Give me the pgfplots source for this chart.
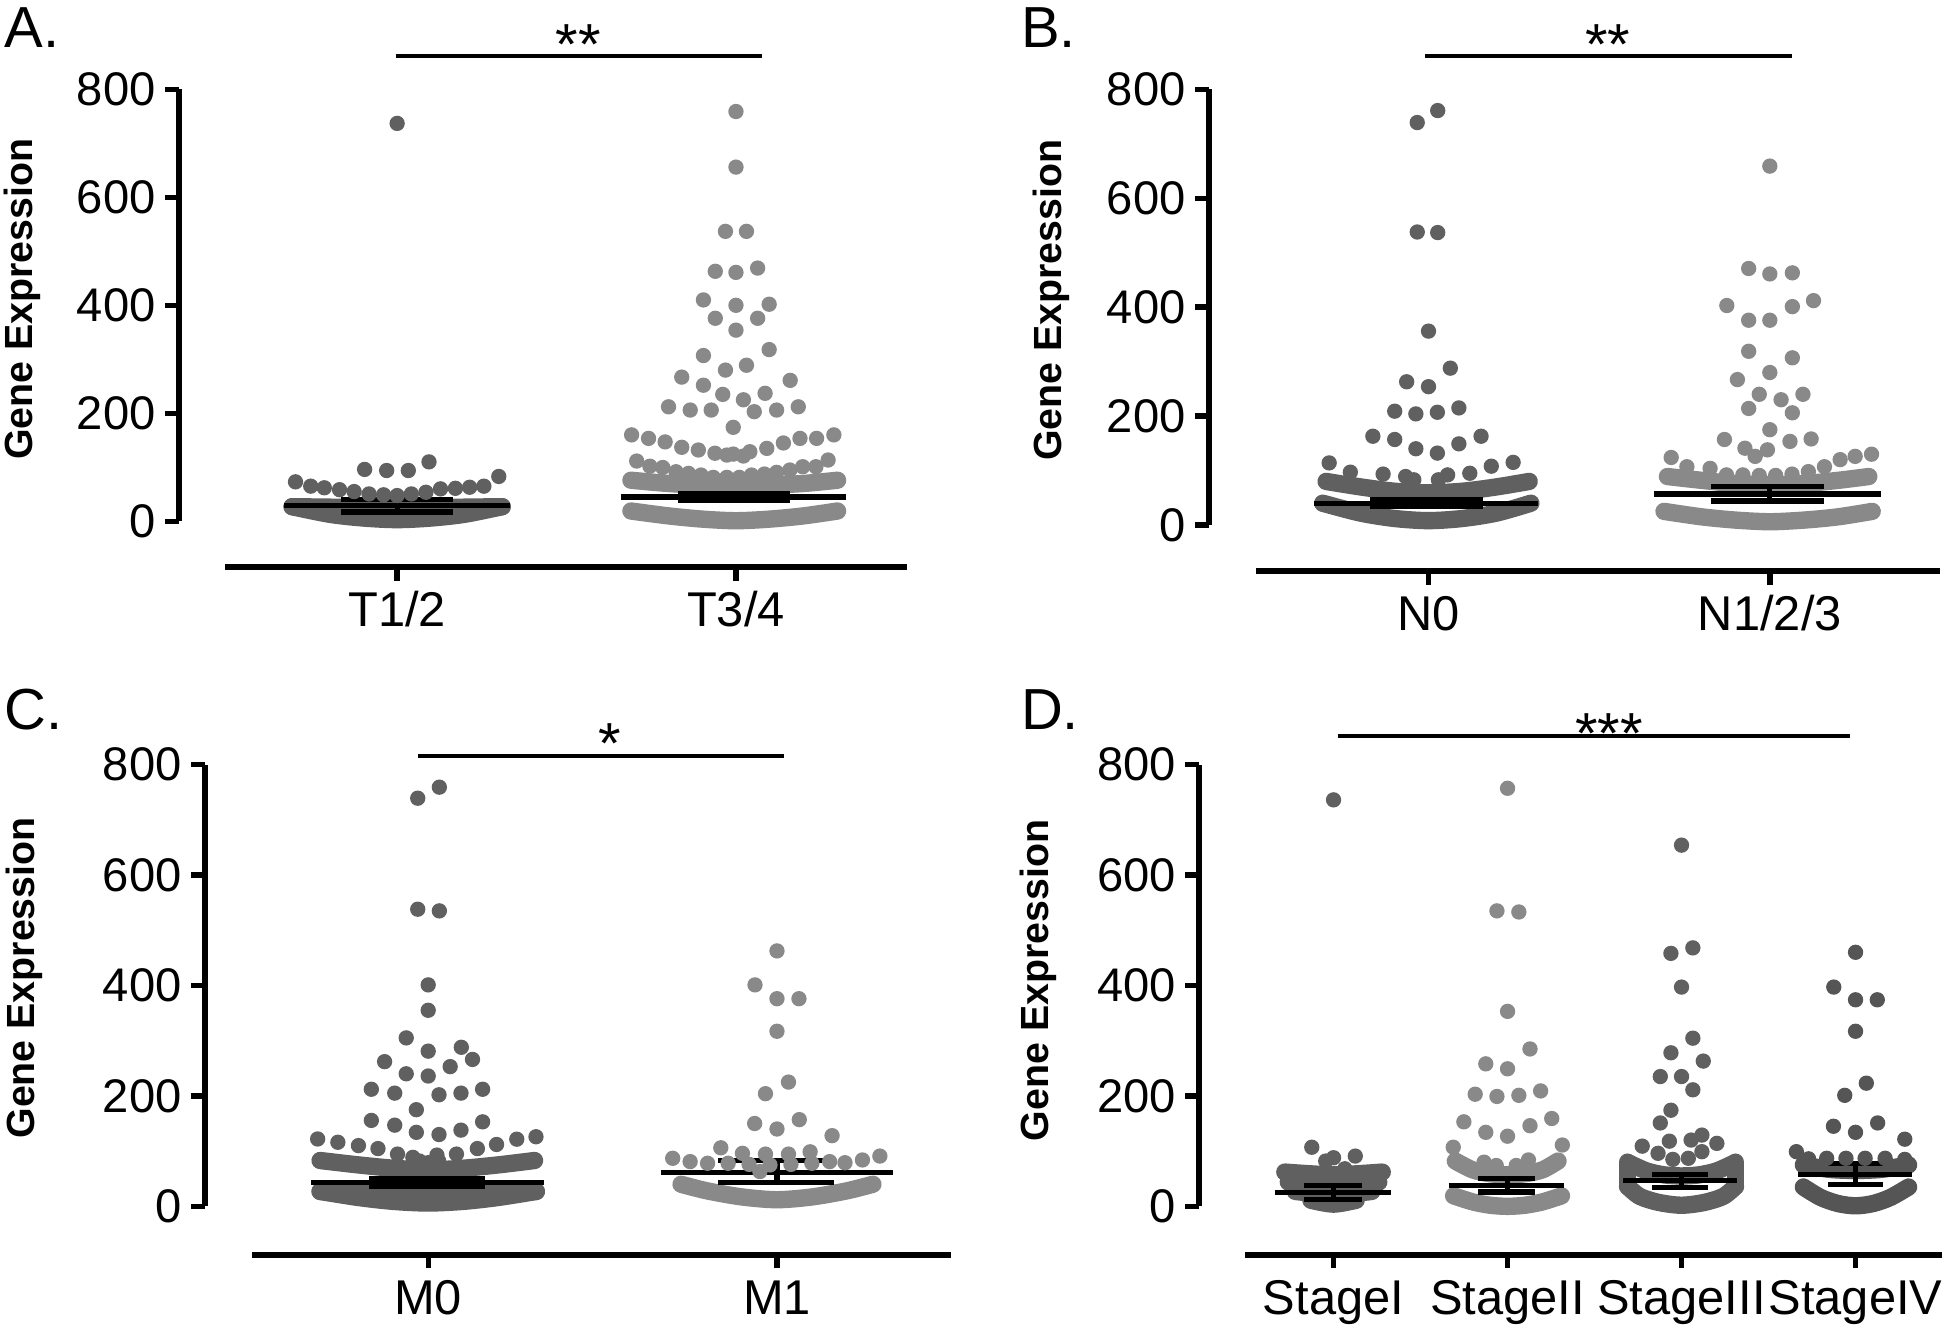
\documentclass[border=0pt]{standalone}
\usepackage{fontspec}
\setmainfont{Liberation Sans}
\usepackage{pgfplots}
\pgfplotsset{compat=1.18}
\definecolor{dk}{HTML}{606060}
\definecolor{lt}{HTML}{898989}
\definecolor{dkk}{HTML}{555555}
\tikzset{axl/.style={line width=1.5pt}}
\pgfplotsset{
  panel/.style={
    scale only axis, clip=false, anchor=south west,
    axis lines*=left, axis line style={draw=none},
    tick align=outside, major tick length=3.3pt,
    tick style={black, line width=1.3pt},
    ymax=800, ytick={0,200,400,600,800},
    /pgf/number format/assume math mode=true,
    tick label style={font=\fontsize{11.4}{13}\selectfont},
    yticklabel style={anchor=east, inner sep=0pt, xshift=-2.1pt},
    xticklabel style={anchor=base, inner sep=0pt, yshift=-11.1pt, font=\fontsize{11.8}{13}\selectfont},
  },
  dot/.style={only marks, mark=*, mark size=1.65pt, color=#1, mark options={solid, fill=#1, draw=#1, line width=0.4pt}},
  band/.style={draw=#1, line width=4.2pt, line cap=round, line join=round, smooth, mark=none},
  eb/.style={black, line width=1.25pt, mark=none},
}
\begin{document}
\begin{tikzpicture}
\useasboundingbox (0,0) rectangle (470.4pt,322.2pt);

% ---------------- Panel A ----------------
\begin{axis}[panel, at={(43.2pt,185.1pt)}, width=176.1pt, height=115.5pt,
  xmin=0.3553, xmax=2.5055, ymin=-85.06, xtick={1,2}, xticklabels={T1/2,T3/4}]
\draw[axl] (axis cs:0.3553,0) -- (axis cs:0.3553,800);
\draw[axl] (axis cs:0.4908,-85.06) -- (axis cs:2.5055,-85.06);
% T1/2
\addplot[band=dk] coordinates {(0.69,27)(0.8,13)(0.9,6)(1,3)(1.1,6)(1.2,13)(1.31,27)};
\addplot[band=dk] coordinates {(0.69,27)(1,25)(1.31,27)};
\addplot[dot=dk] coordinates {(1,737) (0.904,96) (0.969,94) (1.033,94) (1.094,110)
 (0.70,73) (0.745,65) (0.785,62) (0.83,58.5) (0.873,55) (0.917,50.6) (0.96,49) (1.0,47.6) (1.042,50.6) (1.085,53.7) (1.128,60) (1.172,61) (1.214,63) (1.256,65) (1.30,83)};
% T3/4
\addplot[band=lt] coordinates {(1.69,19)(1.8,10)(1.9,4)(2,1)(2.1,4)(2.2,10)(2.30,19)};
\addplot[band=lt] coordinates {(1.69,76)(1.8,70)(1.9,67)(2,66)(2.1,67)(2.2,70)(2.30,76)};
\addplot[dot=lt] coordinates {(2,759)(2,656)(1.969,537)(2.031,537)(1.939,463)(2,461)(2.064,469)(1.904,410)(2,400)(2.098,402)(1.939,376)(2.064,376)(2,354)(2.098,318)(1.904,307)(2.031,289)(1.969,280)(1.84,267)(2.16,261)(1.904,252)(1.961,235)(2.022,225)(2.086,237)
 (1.801,212)(1.865,206)(1.927,206)(2.054,203)(2.120,206)(2.184,212)(1.992,174)
 (1.692,160)(1.742,153.5)(1.791,147)(1.84,137)(1.889,132)(1.938,126)(1.973,122.6)(1.992,124.4)(2.022,120.8)(2.041,128.8)(2.091,135)(2.140,145)(2.189,153.5)(2.238,153.5)(2.289,160)
 (1.707,111.5)(1.746,102)(1.784,99.6)(1.823,91.7)(1.86,88.7)(1.897,85.6)(1.933,81.3)(1.973,81.3)(2.010,81.3)(2.046,85.6)(2.084,87.5)(2.120,90.6)(2.159,94.9)(2.197,101)(2.236,101)(2.272,113.4)
 (1.955,75)(1.99,73)(2.025,75)};
% mean / SEM
\addplot[eb] coordinates {(0.667,29)(1.333,29)};
\addplot[eb] coordinates {(0.835,41)(1.165,41)};
\addplot[eb] coordinates {(0.835,17)(1.165,17)};
\addplot[eb] coordinates {(1,17)(1,41)};
\addplot[eb] coordinates {(1.66,45)(2.325,45)};
\addplot[eb] coordinates {(1.83,52)(2.16,52)};
\addplot[eb] coordinates {(1.83,38)(2.16,38)};
\addplot[eb] coordinates {(2,38)(2,52)};
\end{axis}

% ---------------- Panel B ----------------
\begin{axis}[panel, at={(292.2pt,184.2pt)}, width=176.7pt, height=116.4pt,
  xmin=0.3564, xmax=2.498, ymin=-84.3, xtick={1,2}, xticklabels={N0,N1/2/3}]
\draw[axl] (axis cs:0.3564,0) -- (axis cs:0.3564,800);
\draw[axl] (axis cs:0.4945,-84.3) -- (axis cs:2.498,-84.3);
% N0
\addplot[band=dk] coordinates {(0.69,40)(0.8,22)(0.9,12)(1,8)(1.1,12)(1.2,22)(1.30,40)};
\addplot[band=dk] coordinates {(0.70,80)(0.8,70)(0.9,62)(1,59)(1.1,62)(1.2,70)(1.295,80)};
\addplot[dot=dk] coordinates {(0.967,739)(1.027,761)(0.967,538)(1.027,537)(1,356)(1.064,288)(0.936,263)(1,254)
 (0.901,209)(0.963,204)(1.026,207)(1.089,215)
 (0.837,163)(0.901,157)(0.963,140)(1.026,132)(1.089,149)(1.154,163)
 (0.709,114)(0.771,97)(0.867,93.5)(0.933,89)(0.957,83)(1.029,83)(1.056,92)(1.121,95)(1.184,108)(1.248,115)};
% N1/2/3
\addplot[band=lt] coordinates {(1.69,25)(1.8,15)(1.9,9)(2,6)(2.1,9)(2.2,15)(2.30,25)};
\addplot[band=lt] coordinates {(1.70,89)(1.8,82)(1.9,76)(2,74)(2.1,76)(2.2,82)(2.29,89)};
\addplot[dot=lt] coordinates {(2,659)(1.938,471)(2,461)(2.066,463)(1.874,403)(2.066,401)(2.128,412)(1.938,376)(2,376)(1.938,319)(2.066,307)(2,280)(1.905,267)(1.969,240)(2.097,240)(2.033,230)(1.938,214)(2.066,206)(2,175)
 (1.867,157)(1.927,141)(1.993,138)(1.957,126)(2.059,153.5)(2.121,158)
 (1.711,124)(1.757,107)(1.825,104)(1.873,92)(1.921,92)(1.969,91)(2.017,91)(2.065,93.5)(2.113,98)(2.16,107)(2.206,120)(2.25,126)(2.298,130)};
\addplot[eb] coordinates {(0.664,40)(1.322,40)};
\addplot[eb] coordinates {(0.83,46)(1.16,46)};
\addplot[eb] coordinates {(0.83,34)(1.16,34)};
\addplot[eb] coordinates {(1,34)(1,46)};
\addplot[eb] coordinates {(1.66,57)(2.326,57)};
\addplot[eb] coordinates {(1.828,70)(2.158,70)};
\addplot[eb] coordinates {(1.828,44)(2.158,44)};
\addplot[eb] coordinates {(2,44)(2,70)};
\end{axis}

% ---------------- Panel C ----------------
\begin{axis}[panel, at={(49.5pt,18.9pt)}, width=180.3pt, height=118.5pt,
  xmin=0.3594, xmax=2.498, ymin=-87.64, xtick={1,2}, xticklabels={M0,M1}]
\draw[axl] (axis cs:0.3594,0) -- (axis cs:0.3594,800);
\draw[axl] (axis cs:0.4947,-87.64) -- (axis cs:2.498,-87.64);
% M0
\addplot[band=dk] coordinates {(0.69,27)(0.8,16)(0.9,9)(1,6)(1.1,9)(1.2,16)(1.31,27)};
\addplot[band=dk] coordinates {(0.69,27)(1,20)(1.31,27)};
\addplot[band=dk] coordinates {(0.69,83)(0.8,75)(0.9,69)(1,66)(1.1,69)(1.2,75)(1.305,83)};
\addplot[dot=dk] coordinates {(0.970,739)(1.032,759)(0.970,538)(1.032,535)(1,401)(1,355)(0.937,305)(1.095,288)(1,281)(1.127,266)(0.875,262)(1.063,253)(0.937,240)(1,236)
 (0.837,212)(0.904,205)(1.031,202)(1.094,205)(1.156,212)(0.966,175)
 (0.837,155.6)(0.904,147)(0.966,134)(1.031,130)(1.094,138)(1.156,153)
 (0.683,122)(0.741,116)(0.80,110)(0.856,104.6)(0.912,94.6)(0.956,88.7)(1.025,92.8)(1.081,94.6)(1.141,104.6)(1.196,112)(1.254,121.6)(1.309,126)
 (0.975,82)(1.0,79)(1.03,82)};
% M1
\addplot[band=lt] coordinates {(1.725,40)(1.8,28)(1.9,17)(2,12)(2.1,17)(2.2,28)(2.275,40)};
\addplot[dot=lt] coordinates {(2,462.5)(1.937,401)(2,376)(2.063,376)(2,317)(2.033,225)(1.967,204)(1.936,150)(2,140)(2.064,157)(2.158,128)
 (1.701,87)(1.751,81)(1.801,78)(1.839,106)(1.901,96)(1.967,94.6)(2.033,94.6)(2.095,98.7)(2.151,81)(2.195,79)(2.245,84)(2.295,91)
 (1.951,63)(1.86,78)(1.92,76)(1.98,75)(2.04,76)(2.10,78)};
\addplot[eb] coordinates {(0.664,43)(1.332,43)};
\addplot[eb] coordinates {(0.831,50)(1.163,50)};
\addplot[eb] coordinates {(0.831,36)(1.163,36)};
\addplot[eb] coordinates {(1,36)(1,50)};
\addplot[eb] coordinates {(1.667,62)(2.333,62)};
\addplot[eb] coordinates {(1.832,83)(2.164,83)};
\addplot[eb] coordinates {(1.832,43)(2.164,43)};
\addplot[eb] coordinates {(2,43)(2,83)};
\end{axis}

% ---------------- Panel D ----------------
\begin{axis}[panel, at={(289.8pt,18.9pt)}, width=179.7pt, height=118.5pt,
  xmin=0.2261, xmax=4.4986, ymin=-87.64, xtick={1,2,3,4},
  xticklabels={StageI,StageII,StageIII,StageIV}]
\draw[axl] (axis cs:0.2261,0) -- (axis cs:0.2261,800);
\draw[axl] (axis cs:0.49,-87.64) -- (axis cs:4.4986,-87.64);
% StageI
\addplot[band=dk] coordinates {(0.72,62)(0.86,59)(1,57)(1.14,59)(1.28,62)};
\addplot[band=dk] coordinates {(0.74,44)(1,39)(1.26,44)};
\addplot[band=dk] coordinates {(0.78,27)(1,21)(1.22,27)};
\addplot[band=dk] coordinates {(0.87,11)(1,4)(1.13,11)};
\addplot[dot=dk] coordinates {(1,736)(0.875,107)(0.955,82)(1,88)(1.125,91)(1.065,68)};
% StageII
\addplot[band=lt] coordinates {(1.70,82)(1.8,66)(1.9,59)(2,57)(2.1,59)(2.2,66)(2.29,82)};
\addplot[band=lt] coordinates {(1.69,19)(1.8,8)(1.9,2)(2,0)(2.1,2)(2.2,8)(2.31,19)};
\addplot[dot=lt] coordinates {(2,757)(1.939,535)(2.065,533)(2,353)(2.129,285)(1.875,258)(2,249)(1.814,203)(1.939,199)(2.065,201)(2.19,209)(1.749,153)(2.254,159)(2.129,146)(1.875,134)(2,127)(1.688,107)(2.315,111)
 (1.865,80)(1.935,74)(2.05,74)(2.12,84)};
% StageIII
\addplot[band=dk] coordinates {(2.69,36)(2.76,18)(2.87,7)(3,2)(3.13,7)(3.24,18)(3.31,36)};
\addplot[band=dk] coordinates {(2.69,80)(2.69,36)};
\addplot[band=dk] coordinates {(3.31,80)(3.31,36)};
\addplot[band=dk] coordinates {(2.70,78)(2.8,64)(2.9,57)(3,55)(3.1,57)(3.2,64)(3.30,78)};
\addplot[dot=dk] coordinates {(3,654)(2.939,458)(3.065,468)(3,397)(3.065,304.5)(2.939,278)(3.125,263)(2.878,235)(3,235)(3.065,211)(2.939,174)(2.878,151)
 (2.774,109)(2.93,118)(3.055,120)(3.117,129)(3.203,114)(2.865,96)(2.95,85)(3.039,87)(3.117,99)};
% StageIV
\addplot[band=dkk] coordinates {(3.70,35)(3.8,16)(3.9,5)(4,1)(4.1,5)(4.2,16)(4.305,35)};
\addplot[band=dkk] coordinates {(3.70,75)(3.85,67)(4,65)(4.15,67)(4.305,75)};
\addplot[dot=dkk] coordinates {(4,460)(3.875,397)(4,374)(4.125,374)(4,317)(4.062,223)(3.938,201)(3.873,145)(4,134)(4.127,151)(4.283,121.6)(3.66,99)
 (3.73,86)(3.834,87)(3.945,87)(4.055,87)(4.17,87)(4.283,85)};
\addplot[eb] coordinates {(0.662,25)(1.33,25)};
\addplot[eb] coordinates {(0.831,38)(1.164,38)};
\addplot[eb] coordinates {(0.831,12)(1.164,12)};
\addplot[eb] coordinates {(1,12)(1,38)};
\addplot[eb] coordinates {(1.662,38)(2.327,38)};
\addplot[eb] coordinates {(1.831,50)(2.156,50)};
\addplot[eb] coordinates {(1.831,26)(2.156,26)};
\addplot[eb] coordinates {(2,26)(2,50)};
\addplot[eb] coordinates {(2.665,47)(3.319,47)};
\addplot[eb] coordinates {(2.831,58)(3.151,58)};
\addplot[eb] coordinates {(2.831,34)(3.151,34)};
\addplot[eb] coordinates {(3,34)(3,58)};
\addplot[eb] coordinates {(3.67,58)(4.327,58)};
\addplot[eb] coordinates {(3.842,78)(4.158,78)};
\addplot[eb] coordinates {(3.842,39)(4.158,39)};
\addplot[eb] coordinates {(4,39)(4,78)};
\end{axis}

% ---------------- annotations ----------------
\draw[line width=0.9pt] (95.7pt,308.58pt) -- (184.2pt,308.58pt);
\draw[line width=0.9pt] (344.4pt,308.58pt) -- (433.2pt,308.58pt);
\draw[line width=0.9pt] (101.1pt,139.5pt) -- (189.6pt,139.5pt);
\draw[line width=0.9pt] (323.4pt,144.3pt) -- (447.3pt,144.3pt);
\begin{scope}[every node/.style={inner sep=0pt, font=\fontsize{14}{16}\selectfont}]
\node[anchor=base] at (139.8pt,306.5pt) {**};
\node[anchor=base] at (388.65pt,306.5pt) {**};
\node[anchor=base] at (147.3pt,137.76pt) {*};
\node[anchor=base] at (388.98pt,140.16pt) {***};
\end{scope}
\begin{scope}[every node/.style={inner sep=0pt, anchor=base west, font=\fontsize{14}{16}\selectfont}]
\node at (0.9pt,310.8pt) {A.};
\node at (246.6pt,310.8pt) {B.};
\node at (0.9pt,145.8pt) {C.};
\node at (246.6pt,145.8pt) {D.};
\end{scope}
\begin{scope}[every node/.style={inner sep=0pt, rotate=90, font=\bfseries\fontsize{9.5}{11}\selectfont}]
\node at (5.4pt,249.9pt) {Gene Expression};
\node at (254.1pt,249.6pt) {Gene Expression};
\node at (6pt,85.8pt) {Gene Expression};
\node at (251.1pt,85.2pt) {Gene Expression};
\end{scope}
\end{tikzpicture}
\end{document}
